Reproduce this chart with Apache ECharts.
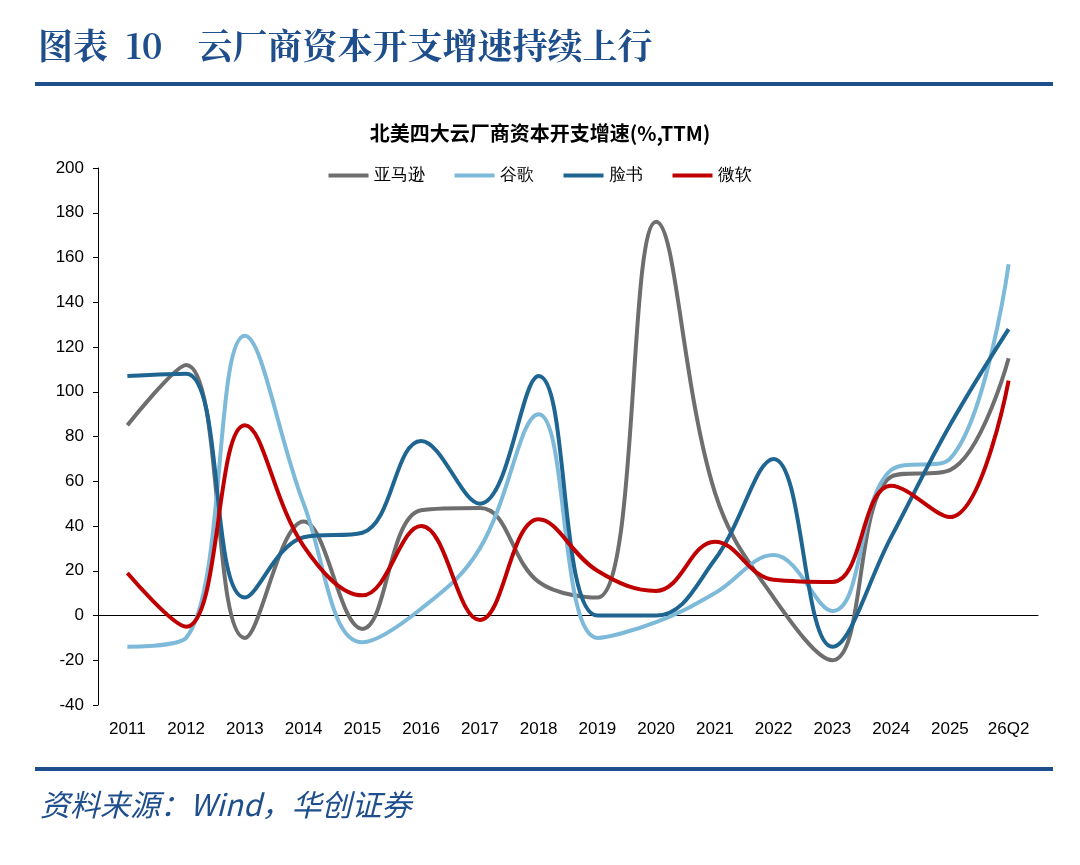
<!DOCTYPE html>
<html><head><meta charset="utf-8">
<script src="https://cdn.jsdelivr.net/npm/echarts@6/dist/echarts.min.js"></script>
<style>body{margin:0;background:#fff}#c{width:1080px;height:865px}</style>
</head><body><div id="c"></div>
<script>
var categories = ['2011','2012','2013','2014','2015','2016','2017','2018','2019','2020','2021','2022','2023','2024','2025','26Q2'];
var amazon = [85,112,-10,42,-6,47,48,15,8,176,55,8,-20,62,65,115];
var google = [-14,-10,125,50,-12,3,30,90,-10,-3,10,27,2,65,70,157];
var meta = [107,108,8,35,37,78,50,107,0,0,25,70,-14,35,85,128];
var msft = [19,-5,85,31,9,40,-2,43,20,11,33,16,15,58,44,105];

var chart = echarts.init(document.getElementById('c'));
function s(name, data, color) {
    return {name: name, type: 'line', data: data, smooth: 0.4, symbol: 'none',
        lineStyle: {color: color, width: 4}, itemStyle: {color: color}};
}
chart.setOption({
    animation: false,
    graphic: [
        {type: 'text', left: 38, top: 28, style: {text: '图表  10    云厂商资本开支增速持续上行', font: 'bold 35px "Noto Serif CJK SC","Noto Sans CJK SC",serif', fill: '#1f4e8c'}},
        {type: 'rect', shape: {x: 35, y: 82, width: 1018, height: 4}, style: {fill: '#1f4e8c'}},
        {type: 'rect', shape: {x: 35, y: 767, width: 1018, height: 4}, style: {fill: '#1f4e8c'}},
        {type: 'text', left: 40, top: 790, style: {text: '资料来源：Wind，华创证券', font: 'italic 30px "Noto Sans CJK SC",serif', fill: '#1f4e8c'}}
    ],
    title: {text: '北美四大云厂商资本开支增速(%,TTM)', left: 'center', top: 118,
        textStyle: {fontSize: 20, fontWeight: 'bold', color: '#000', fontFamily: '"Noto Sans CJK SC",sans-serif'}},
    legend: {top: 162, left: 'center', itemWidth: 40, itemHeight: 4, itemGap: 30, icon: 'rect',
        textStyle: {fontSize: 17, color: '#000'}},
    grid: {left: 98, right: 42, top: 168, bottom: 160},
    xAxis: {type: 'category', data: categories, boundaryGap: true,
        axisLine: {lineStyle: {color: '#000'}}, axisTick: {show: false},
        axisLabel: {fontSize: 17, color: '#000', margin: 16}},
    yAxis: {type: 'value', min: -40, max: 200, interval: 20,
        axisLine: {show: true, lineStyle: {color: '#000'}}, axisTick: {show: true, inside: false},
        splitLine: {show: false}, axisLabel: {fontSize: 17, color: '#000', margin: 14}},
    series: [s('亚马逊', amazon, '#6e6e6e'), s('谷歌', google, '#7db9d8'), s('脸书', meta, '#1f6592'), s('微软', msft, '#c00000')]
});
</script></body></html>
